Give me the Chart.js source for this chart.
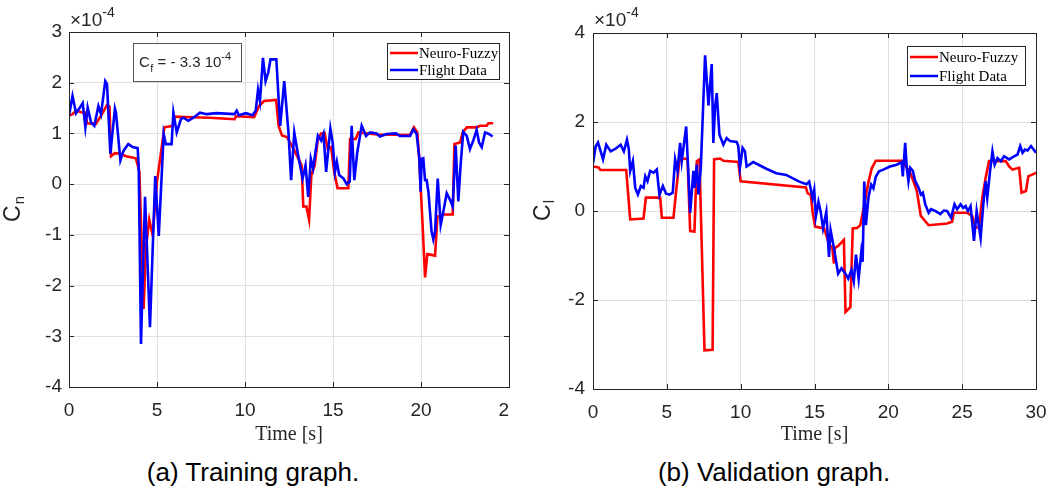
<!DOCTYPE html>
<html>
<head>
<meta charset="utf-8">
<script src="https://cdn.jsdelivr.net/npm/chart.js@4.4.1/dist/chart.umd.min.js"></script>
<style>
  html, body { margin: 0; padding: 0; background: #fff; width: 1056px; height: 493px; overflow: hidden; }
  .panel { position: absolute; top: 0; height: 455px; overflow: hidden; }
  #wrapA { left: 0; width: 510px; }
  #wrapB { left: 530px; width: 526px; }
  .caption { position: absolute; top: 457px; font: 26px/30px "Liberation Sans", Arial, sans-serif;
             color: #000; white-space: nowrap; transform: translateX(-50%); }
</style>
</head>
<body>
<div class="panel" id="wrapA"><canvas id="trainChart" width="530" height="455"></canvas></div>
<div class="panel" id="wrapB"><canvas id="validChart" width="526" height="455"></canvas></div>
<div class="caption" style="left:253px">(a) Training graph.</div>
<div class="caption" style="left:774px">(b) Validation graph.</div>
<script>
// values are in units of 1e-4, time in seconds
const trainXTicks = [0, 5, 10, 15, 20, 25];
const trainYTicks = [-4, -3, -2, -1, 0, 1, 2, 3];
const validXTicks = [0, 5, 10, 15, 20, 25, 30];
const validYTicks = [-4, -2, 0, 2, 4];
const seriesNames = ['Neuro-Fuzzy', 'Flight Data'];

const trainFlight = [
  [0, 1.35], [0.2, 1.74], [0.4, 1.4], [0.6, 1.5], [0.78, 1.6], [0.93, 1.12], [1.06, 1.51], [1.25, 1.22],
  [1.44, 1.15], [1.67, 1.54], [1.82, 1.38], [2.06, 2.03], [2.16, 1.97], [2.35, 0.6], [2.61, 1.49], [2.67, 1.41],
  [2.92, 0.47], [3.1, 0.66], [3.37, 0.79], [3.62, 0.73], [3.9, 0.71], [3.96, 0.37], [4.09, -3.15], [4.32, -0.25],
  [4.6, -2.82], [4.9, 0.16], [5.1, -1.02], [5.38, 0.99], [5.5, 0.79], [5.83, 0.79], [5.93, 1.41], [6.12, 1.02],
  [6.36, 1.28], [6.5, 1.31], [6.78, 1.25], [7.07, 1.31], [7.44, 1.41], [7.83, 1.38], [8.38, 1.4], [9.4, 1.38],
  [9.53, 1.45], [9.65, 1.36], [10.05, 1.4], [10.43, 1.36], [10.61, 1.45], [10.74, 1.86], [10.85, 1.64], [11.02, 2.49],
  [11.17, 2.03], [11.32, 2.2], [11.45, 2.46], [11.64, 2.46], [11.78, 2.46], [12.0, 1.15], [12.23, 2.03], [12.47, 1.02],
  [12.62, 0.08], [12.8, 1.02], [12.99, 0.63], [13.27, 0.11], [13.44, 0.37], [13.59, -0.25], [13.74, 0.5], [13.87, 0.31],
  [14.14, 0.96], [14.33, 0.86], [14.46, 0.99], [14.61, 0.24], [14.85, 1.1], [14.98, 0.83], [15.11, 0.24], [15.22, 0.44],
  [15.35, 0.18], [15.6, 0.11], [15.78, 0.0], [15.95, 0.05], [16.06, 1.15], [16.21, 0.08], [16.38, 0.63], [16.63, 1.15],
  [16.88, 0.95], [17.1, 1.02], [17.48, 1.0], [17.67, 0.94], [18.05, 0.99], [18.58, 1.0], [18.8, 0.95], [19.38, 0.95],
  [19.56, 1.08], [19.75, 0.99], [19.9, 0.53], [19.98, -0.15], [20.04, 0.5], [20.13, 0.51], [20.23, 0.08], [20.32, 0.08],
  [20.42, -0.15], [20.6, -0.93], [20.7, -1.09], [20.8, -0.93], [20.95, 0.11], [21.12, -0.8], [21.27, -0.54], [21.46, -0.18],
  [21.65, -0.31], [21.8, -0.44], [21.97, 0.76], [22.12, -0.34], [22.25, 0.37], [22.4, 1.03], [22.6, 0.95], [22.78, 0.69],
  [22.97, 0.86], [23.16, 1.07], [23.3, 0.82], [23.45, 0.73], [23.64, 1.02], [23.86, 0.99], [24.07, 0.94]
];

const trainFuzzy = [
  [0, 1.35], [0.2, 1.38], [0.4, 1.45], [0.78, 1.41], [0.95, 1.41], [1.02, 1.2], [1.53, 1.19], [1.82, 1.35],
  [2.16, 1.56], [2.3, 1.53], [2.39, 0.55], [2.61, 0.61], [2.95, 0.6], [3.24, 0.55], [3.8, 0.51], [4.0, 0.24],
  [4.24, -2.46], [4.37, -1.26], [4.56, -0.7], [4.75, -1.0], [5.0, 0.05], [5.23, 0.63], [5.42, 1.12], [5.9, 1.15],
  [6.0, 1.33], [7.0, 1.32], [8.0, 1.31], [9.4, 1.28], [9.5, 1.34], [10.52, 1.32], [10.8, 1.54], [11.08, 1.64],
  [11.77, 1.66], [11.91, 1.15], [12.1, 0.96], [12.38, 0.93], [12.75, 0.7], [13.03, 0.5], [13.22, 0.37], [13.31, -0.44],
  [13.49, -0.44], [13.64, -0.7], [13.77, 0.18], [13.96, 0.37], [14.14, 0.89], [14.33, 1.0], [14.52, 1.01], [14.7, 0.7],
  [14.89, 0.73], [15.07, 0.24], [15.26, -0.08], [15.87, -0.08], [15.97, 0.89], [16.29, 0.89], [16.44, 1.02], [17.5, 0.98],
  [19.38, 0.97], [19.6, 1.12], [19.79, 1.02], [19.9, 0.5], [20.09, -0.8], [20.23, -1.84], [20.36, -1.38], [20.8, -1.41],
  [20.93, -0.64], [21.27, -0.6], [21.8, -0.6], [21.9, 0.79], [22.22, 0.82], [22.37, 1.02], [22.6, 1.12], [23.16, 1.12],
  [23.35, 1.15], [23.73, 1.15], [23.83, 1.2], [24.1, 1.2]
];

const validFlight = [
  [0, 1.07], [0.18, 1.45], [0.34, 1.54], [0.52, 1.34], [0.68, 1.16], [0.9, 1.49], [1.2, 1.34], [1.53, 1.4],
  [1.87, 1.49], [2.09, 1.34], [2.3, 1.6], [2.42, 1.4], [2.52, 0.9], [2.7, 1.12], [2.86, 0.52], [3.04, 0.37],
  [3.24, 0.56], [3.42, 0.52], [3.54, 0.78], [3.69, 0.67], [3.87, 0.9], [4.1, 0.86], [4.32, 0.93], [4.5, 0.36],
  [4.73, 0.56], [4.95, 0.39], [5.18, 0.37], [5.4, 0.41], [5.56, 1.16], [5.72, 0.9], [5.9, 1.53], [6.01, 1.12],
  [6.31, 1.9], [6.58, -0.04], [6.8, 0.9], [6.87, 0.52], [7.03, 1.04], [7.14, 0.37], [7.3, 0.97], [7.59, 3.5],
  [7.82, 2.37], [8.04, 3.3], [8.15, 1.53], [8.27, 2.35], [8.38, 2.65], [8.56, 1.72], [8.83, 1.49], [9.05, 1.64],
  [9.28, 1.57], [9.73, 1.55], [9.84, 1.46], [9.95, 0.97], [10.13, 1.42], [10.29, 1.34], [10.4, 1.0], [10.85, 1.1],
  [11.74, 0.95], [12.41, 0.85], [13.08, 0.81], [13.97, 0.66], [14.46, 0.6], [14.64, 0.66], [14.87, 0.29], [14.98, 0.47],
  [15.09, -0.13], [15.27, 0.21], [15.42, -0.02], [15.58, -0.39], [15.8, -0.02], [15.98, -1.03], [16.09, -0.43], [16.32, -0.84],
  [16.6, -1.41], [16.83, -1.29], [17.1, -1.41], [17.28, -1.52], [17.5, -1.33], [17.66, -1.58], [17.81, -0.98], [17.99, -1.52],
  [18.17, -0.92], [18.26, -1.14], [18.37, 0.66], [18.48, -0.32], [18.66, 0.32], [18.84, 0.59], [18.99, 0.51], [19.15, 0.77],
  [19.37, 0.89], [19.66, 0.93], [20.11, 1.0], [20.57, 1.04], [20.9, 1.1], [20.98, 0.78], [21.14, 1.53], [21.25, 0.97],
  [21.36, 0.67], [21.48, 0.97], [21.66, 0.9], [21.82, 0.67], [22.05, 0.52], [22.2, 0.37], [22.34, 0.41], [22.5, 0.15],
  [22.73, -0.04], [22.89, 0.04], [23.18, 0.0], [23.52, -0.07], [23.75, 0.01], [23.98, 0.0], [24.25, -0.15], [24.48, 0.15],
  [24.66, 0.04], [24.89, 0.15], [25.07, 0.07], [25.23, 0.11], [25.39, 0.0], [25.57, 0.11], [25.8, -0.67], [25.98, 0.0],
  [26.25, -0.6], [26.43, 0.15], [26.59, 0.67], [26.7, 0.3], [26.89, 0.9], [27.05, 1.34], [27.2, 1.04], [27.39, 1.19],
  [27.61, 1.12], [27.84, 1.23], [28.18, 1.16], [28.52, 1.23], [28.75, 1.27], [28.93, 1.46], [29.09, 1.31], [29.25, 1.38],
  [29.43, 1.36], [29.66, 1.46], [29.89, 1.36], [30.0, 1.31]
];

const validFuzzy = [
  [0, 1.0], [0.38, 0.98], [0.5, 0.92], [2.25, 0.92], [2.52, -0.19], [3.42, -0.17], [3.58, 0.3], [4.55, 0.3],
  [4.66, -0.15], [5.45, -0.15], [5.63, 0.45], [5.86, 1.16], [6.4, 1.18], [6.58, -0.45], [6.87, -0.46], [7.03, 1.12],
  [7.21, 1.16], [7.55, -3.13], [8.1, -3.12], [8.2, 1.16], [8.6, 1.18], [8.83, 1.13], [9.84, 1.1], [10.0, 0.67],
  [14.42, 0.53], [14.53, 0.4], [14.75, 0.36], [14.87, -0.02], [15.04, -0.35], [15.65, -0.39], [15.98, -0.73], [16.21, -0.84],
  [16.32, -1.18], [16.36, -0.84], [16.65, -0.77], [16.99, -0.65], [17.1, -2.27], [17.43, -2.16], [17.59, -0.39], [17.88, -0.38],
  [18.1, -0.32], [18.33, 0.06], [18.66, 0.66], [18.88, 0.96], [19.15, 1.13], [21.02, 1.13], [21.25, 0.97], [21.48, 0.86],
  [21.7, 0.67], [21.93, 0.45], [22.2, -0.11], [22.73, -0.32], [23.98, -0.28], [24.32, -0.24], [24.43, -0.04], [25.34, -0.04],
  [25.68, -0.11], [25.91, -0.37], [26.14, -0.37], [26.36, 0.3], [26.59, 0.75], [26.82, 1.12], [27.61, 1.12], [27.95, 1.12],
  [28.18, 1.0], [28.41, 0.93], [28.86, 0.97], [29.02, 0.41], [29.32, 0.45], [29.48, 0.78], [29.89, 0.84], [30.0, 0.86]
];

const SANS = '"Liberation Sans", Arial, Helvetica, sans-serif';
const SERIF = '"Liberation Serif", "Times New Roman", serif';
const INK = '#262626';
const LINE_COLORS = ['#ff0000', '#0000ff'];

// MATLAB-ish extras: box, inward ticks, exponent, y label, legend, note box
const decor = {
  id: 'decor',
  afterDraw(chart, args, o) {
    const { ctx, chartArea: a, scales: { x, y } } = chart;
    ctx.save();
    ctx.strokeStyle = INK;
    ctx.lineWidth = 1;
    ctx.beginPath();
    x.ticks.forEach((t) => {
      const px = Math.round(x.getPixelForValue(t.value)) + 0.5;
      ctx.moveTo(px, a.bottom); ctx.lineTo(px, a.bottom - 5);
      ctx.moveTo(px, a.top); ctx.lineTo(px, a.top + 5);
    });
    y.ticks.forEach((t) => {
      const py = Math.round(y.getPixelForValue(t.value)) + 0.5;
      ctx.moveTo(a.left, py); ctx.lineTo(a.left + 5, py);
      ctx.moveTo(a.right, py); ctx.lineTo(a.right - 5, py);
    });
    ctx.stroke();
    ctx.strokeRect(Math.round(a.left) + 0.5, Math.round(a.top) + 0.5,
      Math.round(a.right - a.left), Math.round(a.bottom - a.top));

    // exponent above the y axis
    ctx.fillStyle = INK;
    ctx.textBaseline = 'alphabetic';
    ctx.textAlign = 'left';
    ctx.font = '19px ' + SANS;
    ctx.fillText('\u00d710', a.left + 1, 26);
    const wx = ctx.measureText('\u00d710').width;
    ctx.font = '14px ' + SANS;
    ctx.fillText('-4', a.left + 1 + wx, 17);

    // y axis label with subscript
    ctx.save();
    ctx.translate(20, (a.top + a.bottom) / 2);
    ctx.rotate(-Math.PI / 2);
    ctx.font = '23px ' + SANS;
    const wc = ctx.measureText('C').width;
    ctx.font = '15px ' + SANS;
    const ws = ctx.measureText(o.sub).width;
    const sx = -(wc + ws) / 2;
    ctx.font = '23px ' + SANS;
    ctx.fillText('C', sx, 0);
    ctx.font = '15px ' + SANS;
    ctx.fillText(o.sub, sx + wc + 1, 4);
    ctx.restore();

    // legend box
    const L = o.legend;
    ctx.fillStyle = '#fff';
    ctx.fillRect(L.x, L.y, L.w, L.h);
    ctx.strokeStyle = INK;
    ctx.strokeRect(L.x + 0.5, L.y + 0.5, L.w, L.h);
    ctx.font = '15px ' + SERIF;
    ctx.textBaseline = 'middle';
    seriesNames.forEach((name, i) => {
      const ry = L.y + L.row0 + i * L.gap;
      ctx.strokeStyle = LINE_COLORS[i];
      ctx.lineWidth = 2.5;
      ctx.beginPath();
      ctx.moveTo(L.x + 3, ry); ctx.lineTo(L.x + 31, ry);
      ctx.stroke();
      ctx.fillStyle = '#000';
      ctx.fillText(name, L.x + 32, ry + 1);
    });

    // note box (training plot only)
    if (o.note) {
      const N = o.note;
      ctx.lineWidth = 1;
      ctx.fillStyle = '#fff';
      ctx.fillRect(N.x, N.y, N.w, N.h);
      ctx.strokeStyle = '#555';
      ctx.strokeRect(N.x + 0.5, N.y + 0.5, N.w, N.h);
      ctx.fillStyle = INK;
      ctx.textBaseline = 'alphabetic';
      let cx = N.x + 6;
      const base = N.y + 24;
      ctx.font = '15px ' + SANS;
      ctx.fillText('C', cx, base); cx += ctx.measureText('C').width + 0.5;
      ctx.font = '11px ' + SANS;
      ctx.fillText('f', cx, base + 5); cx += ctx.measureText('f').width;
      ctx.font = '15px ' + SANS;
      const txt = ' = - 3.3 10';
      ctx.fillText(txt, cx, base); cx += ctx.measureText(txt).width;
      ctx.font = '11px ' + SANS;
      ctx.fillText('-4', cx, base - 7);
    }
    ctx.restore();
  }
};

function buildChart(id, c) {
  return new Chart(document.getElementById(id), {
    type: 'scatter',
    data: {
      datasets: [
        { label: seriesNames[1], data: c.flight.map(([t, v]) => ({ x: t, y: v })), showLine: true,
          borderColor: LINE_COLORS[1], borderWidth: 2.6, pointRadius: 0, tension: 0, order: 0 },
        { label: seriesNames[0], data: c.fuzzy.map(([t, v]) => ({ x: t, y: v })), showLine: true,
          borderColor: LINE_COLORS[0], borderWidth: 2.6, pointRadius: 0, tension: 0, order: 1 }
      ]
    },
    options: {
      responsive: false,
      animation: false,
      events: [],
      layout: { padding: c.padding },
      plugins: { legend: { display: false }, tooltip: { enabled: false }, decor: c.decor },
      scales: {
        x: {
          type: 'linear', min: c.xTicks[0], max: c.xTicks[c.xTicks.length - 1],
          afterBuildTicks: (s) => { s.ticks = c.xTicks.map((v) => ({ value: v })); },
          afterFit: (s) => { s.height = c.xHeight; s.paddingLeft = 0; s.paddingRight = 0; },
          ticks: { font: { family: SANS, size: 19 }, color: INK, padding: 12, maxRotation: 0, autoSkip: false,
                   callback: (v) => String(v) },
          grid: { color: '#dfdfdf', drawTicks: false },
          border: { display: false },
          title: { display: true, text: 'Time [s]', font: { family: SERIF, size: 20 }, color: INK,
                   padding: { top: 0, bottom: 8 } }
        },
        y: {
          min: c.yTicks[0], max: c.yTicks[c.yTicks.length - 1],
          afterBuildTicks: (s) => { s.ticks = c.yTicks.map((v) => ({ value: v })); },
          afterFit: (s) => { s.width = c.yWidth; s.paddingTop = 0; s.paddingBottom = 0; },
          ticks: { font: { family: SANS, size: 19 }, color: INK, padding: c.yPad, autoSkip: false,
                   callback: (v) => String(v) },
          grid: { color: '#dfdfdf', drawTicks: false },
          border: { display: false }
        }
      }
    },
    plugins: [decor]
  });
}

buildChart('trainChart', {
  flight: trainFlight, fuzzy: trainFuzzy, xTicks: trainXTicks, yTicks: trainYTicks,
  padding: { left: 0, top: 32, right: 21, bottom: 0 }, yWidth: 69, xHeight: 68, yPad: 7,
  decor: {
    sub: 'n',
    legend: { x: 387, y: 43, w: 112, h: 36, row0: 10, gap: 17 },
    note: { x: 133, y: 43, w: 108, h: 38 }
  }
});

buildChart('validChart', {
  flight: validFlight, fuzzy: validFuzzy, xTicks: validXTicks, yTicks: validYTicks,
  padding: { left: 0, top: 33, right: 20, bottom: 0 }, yWidth: 63, xHeight: 66, yPad: 8,
  decor: {
    sub: 'l',
    legend: { x: 377, y: 46, w: 118, h: 39, row0: 11, gap: 19 }
  }
});
</script>
</body>
</html>
